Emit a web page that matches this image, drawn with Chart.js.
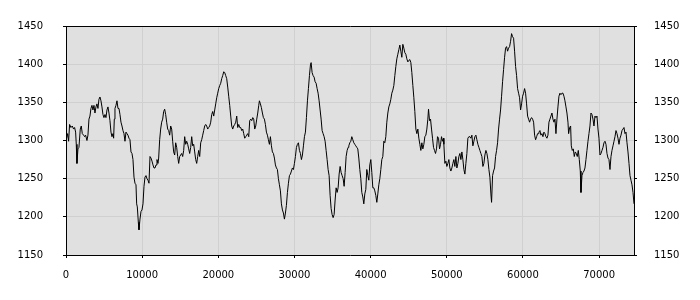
<!DOCTYPE html>
<html>
<head>
<meta charset="utf-8">
<script src="https://cdn.jsdelivr.net/npm/chart.js@4.4.1/dist/chart.umd.min.js"></script>
<style>
  html, body { margin: 0; padding: 0; background: #ffffff; }
  #wrap { width: 700px; height: 300px; }
</style>
</head>
<body>
<div id="wrap"><canvas id="c" width="700" height="300"></canvas></div>
<script>
// ---- data ----
const xs = [
  0,211,342,473,649,824,999,1130,1262,1349,
  1437,1568,1700,1875,2006,2138,2313,2444,2576,2751,
  2882,3014,3145,3277,3408,3539,3671,3802,3934,4065,
  4196,4328,4459,4591,4722,4853,4985,5116,5248,5379,
  5510,5642,5773,5905,6036,6167,6255,6343,6430,6562,
  6693,6824,6956,7087,7219,7350,7481,7613,7744,7876,
  8007,8138,8270,8401,8533,8664,8795,8927,9058,9190,
  9277,9365,9496,9584,9715,9847,9978,10109,10241,10372,
  10504,10635,10766,10898,11029,11161,11292,11423,11555,11686,
  11818,11949,12080,
  12168,12299,12431,12562,12694,12825,12956,13088,13219,13351,
  13482,13613,13745,13876,14008,14139,14270,14402,14533,14665,
  14796,14927,15059,15190,15322,15453,15584,15716,15847,15979,
  16110,16241,16373,16504,16636,16767,16898,17030,17161,17293,
  17424,17555,17687,17818,17950,18081,18212,18344,18475,18607,
  18738,18869,19001,19132,19264,19395,19526,19658,19789,19921,
  20052,20183,20315,20446,20578,20709,20840,20972,21103,21235,
  21366,21497,21629,21760,21892,22023,22154,22286,22417,22549,
  22680,22811,22943,23074,23206,23337,23468,23600,23731,23863,
  23994,24125,24257,24388,24520,24651,
  24782,24914,25045,25177,25308,25396,25527,25658,25790,25921,
  26053,26184,26315,26447,26578,26710,26841,26972,27104,27235,
  27367,27498,27629,27761,27892,28024,28155,28286,28418,28549,
  28681,28812,28943,29075,29206,29338,29469,29600,29732,29863,
  29995,30126,30257,30389,30520,30652,30783,30914,31046,31177,
  31309,31440,31571,31703,31834,31966,32097,32185,32316,32447,
  32579,32710,32842,32973,33104,33236,33367,33499,33630,33761,
  33893,34024,34156,34287,34418,34550,34681,34813,34944,35075,
  35207,35338,35470,35601,35732,35864,35995,36127,36258,36389,
  36521,36652,36784,36915,37046,
  37134,37265,37397,37528,37660,37791,37922,38054,38185,38317,
  38448,38579,38711,38842,38974,39105,39236,39368,39499,39631,
  39762,39893,40025,40156,40288,40419,40550,40682,40813,40945,
  41076,41207,41339,41470,41602,41733,41864,41996,42127,42259,
  42390,42521,42653,42784,42916,43047,43178,43310,43441,43573,
  43704,43835,43967,44098,44230,44361,44492,44624,44755,44887,
  45018,45149,45281,45412,45544,45675,45806,45938,46069,46201,
  46332,46463,46595,46726,46858,46989,47120,47252,47383,47515,
  47602,47734,47865,47996,48128,48259,48391,48522,48653,48785,
  48916,49048,49179,49310,49442,49573,
  49617,49748,49880,50011,50143,50274,50405,50537,50668,50800,
  50931,51062,51194,51325,51457,51588,51719,51851,51982,52114,
  52245,52376,52508,52639,52771,52902,53033,53165,53296,53428,
  53559,53690,53822,53953,54085,54216,54347,54479,54610,54742,
  54873,55004,55136,55267,55399,55530,55661,55793,55880,56012,
  56143,56275,56406,56537,56669,56800,56932,57063,57194,57326,
  57457,57589,57720,57851,57983,58114,58246,58377,58508,58640,
  58771,58903,59034,59165,59297,59428,59560,59691,59822,59954,
  60085,60217,60348,60479,60611,60742,60874,61005,61136,61268,
  61399,61531,61662,61793,61925,62056,
  62100,62231,62363,62494,62626,62757,62888,63020,63151,63283,
  63414,63545,63677,63808,63940,64071,64202,64334,64465,64597,
  64728,64859,64991,65122,65254,65385,65516,65648,65779,65911,
  65998,66130,66261,66349,66480,66611,66743,66874,67006,67137,
  67268,67400,67531,67619,67750,67882,68013,68144,68276,68407,
  68539,68670,68801,68933,69064,69196,69327,69458,69590,69721,
  69853,69984,70115,70247,70378,70510,70641,70772,70904,71035,
  71167,71298,71429,71561,71692,71824,71955,72086,72218,72349,
  72481,72612,72743,72875,73006,73138,73269,73400,73532,73663,
  73795,73926,74057,74189,74320,74452,74583
];
const ys = [
  1300,1309,1299,1321,1317,1319,1315,1317,1311,1295,
  1270,1289,1291,1315,1319,1309,1307,1305,1307,1300,
  1307,1328,1332,1342,1346,1340,1346,1336,1344,1348,
  1342,1354,1357,1352,1344,1334,1330,1334,1330,1340,
  1344,1336,1326,1311,1305,1309,1303,1328,1342,1346,
  1352,1342,1342,1334,1324,1319,1313,1309,1299,1311,
  1309,1307,1303,1301,1285,1283,1275,1252,1244,1242,
  1217,1213,1193,1183,1197,1207,1209,1217,1240,1252,
  1254,1250,1248,1244,1279,1277,1273,1268,1264,1264,
  1268,1275,1270,
  1277,1301,1315,1324,1328,1338,1341,1334,1324,1315,
  1313,1307,1319,1315,1299,1285,1281,1297,1291,1279,
  1270,1279,1281,1283,1279,1287,1305,1295,1299,1295,
  1289,1283,1291,1305,1293,1295,1285,1275,1270,1279,
  1287,1279,1297,1301,1307,1313,1319,1321,1319,1315,
  1317,1319,1324,1334,1338,1332,1340,1348,1356,1362,
  1368,1372,1375,1381,1385,1390,1389,1385,1381,1370,
  1358,1346,1332,1319,1315,1319,1321,1324,1332,1317,
  1321,1317,1317,1313,1315,1309,1303,1305,1307,1309,
  1305,1326,1328,1326,1330,1328,
  1315,1319,1328,1336,1346,1352,1348,1343,1336,1330,
  1328,1321,1311,1307,1301,1295,1305,1293,1285,1283,
  1277,1268,1264,1262,1250,1242,1234,1217,1209,1205,
  1197,1205,1215,1232,1244,1254,1256,1260,1264,1262,
  1270,1279,1291,1295,1297,1287,1283,1275,1281,1293,
  1305,1311,1330,1352,1368,1385,1399,1402,1389,1385,
  1383,1377,1375,1368,1362,1352,1340,1328,1313,1309,
  1305,1299,1287,1275,1262,1254,1228,1211,1203,1199,
  1203,1222,1238,1232,1238,1256,1266,1258,1254,1250,
  1240,1258,1279,1287,1291,
  1293,1297,1299,1305,1301,1297,1295,1293,1291,1289,
  1277,1262,1250,1232,1226,1217,1230,1236,1262,1254,
  1248,1268,1275,1258,1238,1238,1234,1228,1219,1230,
  1242,1250,1262,1275,1279,1299,1297,1305,1324,1336,
  1344,1348,1354,1362,1366,1372,1385,1397,1407,1413,
  1419,1425,1417,1409,1426,1421,1415,1413,1407,1403,
  1405,1406,1402,1389,1372,1356,1338,1315,1309,1315,
  1303,1295,1287,1297,1289,1295,1305,1307,1315,1328,
  1341,1326,1328,1315,1303,1291,1287,1283,1289,1305,
  1303,1289,1295,1305,1299,1303,
  1295,1270,1273,1266,1270,1275,1264,1260,1264,1270,
  1275,1266,1279,1264,1270,1279,1283,1275,1285,1275,
  1262,1256,1270,1283,1303,1305,1305,1303,1307,1293,
  1299,1305,1307,1301,1295,1291,1287,1283,1279,1266,
  1270,1281,1287,1283,1275,1262,1252,1230,1219,1254,
  1260,1264,1279,1287,1297,1315,1328,1340,1358,1377,
  1393,1409,1421,1423,1417,1421,1423,1430,1440,1436,
  1434,1417,1397,1385,1368,1362,1356,1340,1348,1358,
  1362,1368,1362,1348,1332,1328,1324,1328,1330,1328,
  1324,1307,1301,1305,1309,1309,
  1311,1313,1307,1309,1305,1311,1309,1305,1303,1307,
  1324,1328,1332,1336,1328,1324,1328,1309,1328,1344,
  1358,1362,1360,1362,1362,1358,1352,1344,1336,1324,
  1309,1317,1319,1293,1287,1289,1279,1285,1283,1279,
  1287,1275,1260,1232,1254,1258,1260,1264,1275,1287,
  1299,1309,1319,1336,1334,1328,1319,1332,1330,1332,
  1315,1303,1281,1283,1287,1291,1297,1299,1295,1283,
  1277,1275,1262,1279,1287,1293,1299,1305,1313,1309,
  1303,1295,1303,1307,1313,1315,1317,1309,1311,1297,
  1285,1270,1254,1248,1242,1232,1217
];
const xTickValues = [0, 10000, 20000, 30000, 40000, 50000, 60000, 70000];
const yTickValues = [1150, 1200, 1250, 1300, 1350, 1400, 1450];

// ---- build chart ----
const n = Math.min(xs.length, ys.length);
const points = [];
for (let i = 0; i < n; i++) points.push({ x: xs[i], y: ys[i] });

const FONT = { family: "'DejaVu Sans', Verdana, sans-serif", size: 10 };

const frame = {
  id: 'frame',
  beforeDraw(chart) {
    const { ctx, chartArea: a } = chart;
    ctx.save();
    ctx.fillStyle = '#e0e0e0';
    ctx.fillRect(a.left, a.top, a.right - a.left, a.bottom - a.top);
    ctx.restore();
  },
  afterDraw(chart) {
    const { ctx, chartArea: a } = chart;
    ctx.save();
    ctx.strokeStyle = '#000';
    ctx.lineWidth = 1;
    ctx.beginPath();
    ctx.moveTo(a.left, a.top + 0.5);
    ctx.lineTo(a.right + 1, a.top + 0.5);
    ctx.stroke();
    ctx.restore();
  }
};

const fmt = v => String(v);
const setTicks = list => function (s) { s.ticks = list.map(v => ({ value: v })); };

new Chart(document.getElementById('c'), {
  type: 'line',
  data: {
    datasets: [{
      data: points,
      borderColor: '#000000',
      borderWidth: 1,
      pointRadius: 0,
      tension: 0,
      fill: false
    }]
  },
  options: {
    responsive: false,
    animation: false,
    devicePixelRatio: 1,
    layout: { padding: { top: 10, left: 0, right: 0, bottom: 0 } },
    plugins: { legend: { display: false }, tooltip: { enabled: false } },
    scales: {
      x: {
        type: 'linear', position: 'bottom',
        min: xTickValues[0], max: xs[xs.length - 1],
        afterBuildTicks: setTicks(xTickValues),
        ticks: { padding: 11, color: '#000', font: FONT,
                 maxRotation: 0, minRotation: 0, autoSkip: false, callback: fmt },
        grid: { color: '#d0d0d0', tickColor: '#000', tickLength: 3, lineWidth: 1 },
        border: { display: true, color: '#000', width: 1 },
        afterFit(s) { s.height = 45; }
      },
      y: {
        type: 'linear', position: 'left',
        min: yTickValues[0], max: yTickValues[yTickValues.length - 1],
        afterBuildTicks: setTicks(yTickValues),
        ticks: { padding: 20, color: '#000', font: FONT, autoSkip: false, callback: fmt },
        grid: { color: '#d0d0d0', tickColor: '#000', tickLength: 3, lineWidth: 1 },
        border: { display: true, color: '#000', width: 1 },
        afterFit(s) { s.width = 66; }
      },
      y2: {
        type: 'linear', position: 'right',
        min: yTickValues[0], max: yTickValues[yTickValues.length - 1],
        afterBuildTicks: setTicks(yTickValues),
        ticks: { padding: 17, color: '#000', font: FONT, autoSkip: false, callback: fmt },
        grid: { drawOnChartArea: false, tickColor: '#000', tickLength: 3 },
        border: { display: true, color: '#000', width: 1 },
        afterFit(s) { s.width = 66; }
      }
    }
  },
  plugins: [frame]
});
</script>
</body>
</html>
